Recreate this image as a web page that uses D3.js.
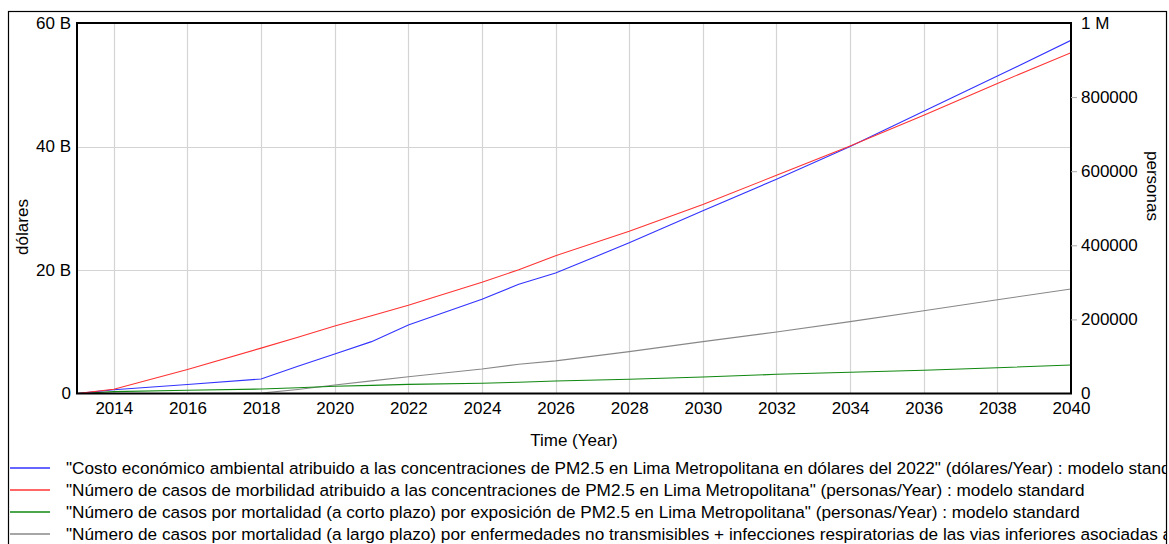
<!DOCTYPE html>
<html><head><meta charset="utf-8">
<script src="https://cdn.jsdelivr.net/npm/d3@7"></script>
<style>
body{margin:0;background:#fff}
text{font-family:"Liberation Sans",Arial,sans-serif;fill:#000}
</style>
</head><body><svg id="c" width="1169" height="544"></svg>
<script>
// ---- data ----
const years      = [2013, 2014, 2016, 2018, 2019, 2020, 2021, 2022, 2024, 2025, 2026, 2028, 2030, 2032, 2034, 2036, 2038, 2040];
// dólares/Year (billions)
const costoB     = [0, 0.6, 1.45, 2.35, 4.4, 6.4, 8.4, 11.1, 15.25, 17.7, 19.5, 24.4, 29.6, 34.7, 40.0, 45.7, 51.4, 57.2];
// personas/Year
const morbilidad = [0, 11500, 65000, 122500, 152000, 182000, 210000, 238000, 300000, 334000, 372000, 438000, 510000, 589000, 668000, 751000, 837000, 920000];
const mortCorto  = [0, 5000, 8600, 12000, 15500, 19400, 22000, 24500, 27500, 30500, 33700, 38300, 44500, 51800, 57200, 62600, 69600, 77000];
const mortLargo  = [0, 0, 0, 1000, 11000, 23000, 34000, 45000, 66000, 79000, 88000, 113000, 140000, 166000, 194000, 223500, 253000, 282000];

const xTickValues = [2014, 2016, 2018, 2020, 2022, 2024, 2026, 2028, 2030, 2032, 2034, 2036, 2038, 2040];
const leftTickValues = [0, 20e9, 40e9, 60e9];
const leftTickLabels = ["0", "20 B", "40 B", "60 B"];
const rightTickValues = [0, 200000, 400000, 600000, 800000, 1000000];
const rightTickLabels = ["0", "200000", "400000", "600000", "800000", "1 M"];

const legendLabels = [
  "\"Costo económico ambiental atribuido a las concentraciones de PM2.5 en Lima Metropolitana en dólares del 2022\" (dólares/Year) : modelo standard",
  "\"Número de casos de morbilidad atribuido a las concentraciones de PM2.5 en Lima Metropolitana\" (personas/Year) : modelo standard",
  "\"Número de casos por mortalidad (a corto plazo) por exposición de PM2.5 en Lima Metropolitana\" (personas/Year) : modelo standard",
  "\"Número de casos por mortalidad (a largo plazo) por enfermedades no transmisibles + infecciones respiratorias de las vias inferiores asociadas a PM2.5\" (personas/Year) : modelo standard"
];
const seriesColors = ["#3333ff", "#ff3333", "#118811", "#888888"];

// ---- layout ----
const svg = d3.select("#c");
const L = 77, R = 1071, T = 23, B = 393.5;

const x = d3.scaleLinear().domain([2013, 2040]).range([L, R]);
const yL = d3.scaleLinear().domain([0, 60e9]).range([B, T]);
const yR = d3.scaleLinear().domain([0, 1e6]).range([B, T]);

// outer frame
svg.append("rect").attr("x", 8.5).attr("y", 11.5).attr("width", 1158).attr("height", 560)
  .attr("fill", "none").attr("stroke", "#000").attr("stroke-width", 1.2);

// grid
const grid = svg.append("g").attr("stroke", "#d4d4d4").attr("stroke-width", 1.2);
grid.selectAll("line.v").data(xTickValues.filter(d => d < 2040)).enter().append("line")
  .attr("x1", d => Math.round(x(d)) + 0.5).attr("x2", d => Math.round(x(d)) + 0.5)
  .attr("y1", T).attr("y2", B);
grid.selectAll("line.h").data(leftTickValues.filter(d => d > 0 && d < 60e9)).enter().append("line")
  .attr("x1", L).attr("x2", R)
  .attr("y1", d => Math.round(yL(d)) + 0.5).attr("y2", d => Math.round(yL(d)) + 0.5);

// lines
svg.append("clipPath").attr("id", "pc").append("rect")
  .attr("x", L).attr("y", T).attr("width", R - L).attr("height", B - T);
const idx = d3.range(years.length);
const series = [
  {vals: costoB.map(v => v * 1e9), y: yL},
  {vals: morbilidad, y: yR},
  {vals: mortCorto, y: yR},
  {vals: mortLargo, y: yR}
];
const lg = svg.append("g").attr("clip-path", "url(#pc)");
[3, 2, 0, 1].forEach(k => {
  const s = series[k];
  const line = d3.line().x(i => x(years[i])).y(i => s.y(s.vals[i]));
  lg.append("path").attr("d", line(idx)).attr("fill", "none")
    .attr("stroke", seriesColors[k]).attr("stroke-width", 1.1);
});

// plot frame
svg.append("rect").attr("x", L).attr("y", T).attr("width", R - L).attr("height", B - T)
  .attr("fill", "none").attr("stroke", "#000").attr("stroke-width", 2);

// axes
const fs = 17;
const ff = "'Liberation Sans',Arial,sans-serif";
const xa = svg.append("g").attr("transform", `translate(0,${B})`)
  .call(d3.axisBottom(x).tickValues(xTickValues).tickFormat(d3.format("d")).tickSize(0).tickPadding(8));
xa.select(".domain").remove();
xa.selectAll("text").attr("font-size", fs).style("font-family", ff);

const la = svg.append("g").attr("transform", `translate(${L},0)`)
  .call(d3.axisLeft(yL).tickValues(leftTickValues).tickFormat((d, i) => leftTickLabels[i]).tickSize(0).tickPadding(6));
la.select(".domain").remove();
la.selectAll("text").attr("font-size", fs).style("font-family", ff);

const ra = svg.append("g").attr("transform", `translate(${R},0)`)
  .call(d3.axisRight(yR).tickValues(rightTickValues).tickFormat((d, i) => rightTickLabels[i]).tickSize(6).tickPadding(4));
ra.select(".domain").remove();
ra.selectAll("line").attr("stroke", "#aaa").attr("opacity", (d) => (d > 0 && d < 1e6) ? 1 : 0);
ra.selectAll("text").attr("font-size", fs).style("font-family", ff);

// axis titles
svg.append("text").attr("transform", "translate(22,227) rotate(-90)")
  .attr("text-anchor", "middle").attr("dominant-baseline", "central").attr("font-size", fs).text("dólares");
svg.append("text").attr("transform", "translate(1152,186) rotate(90)")
  .attr("text-anchor", "middle").attr("dominant-baseline", "central").attr("font-size", fs).text("personas");
svg.append("text").attr("x", (L + R) / 2).attr("y", 440)
  .attr("text-anchor", "middle").attr("dominant-baseline", "central").attr("font-size", fs).text("Time (Year)");

// legend (clipped at the outer frame, as in the original)
svg.append("clipPath").attr("id", "lc").append("rect")
  .attr("x", 9).attr("y", 450).attr("width", 1157).attr("height", 100);
const leg = svg.append("g").attr("clip-path", "url(#lc)");
legendLabels.forEach((t, i) => {
  const yy = 468 + i * 22;
  leg.append("line").attr("x1", 10).attr("x2", 50).attr("y1", yy).attr("y2", yy)
    .attr("stroke", seriesColors[i]).attr("stroke-width", 1.5);
  leg.append("text").attr("x", 66).attr("y", yy).attr("dominant-baseline", "central")
    .attr("font-size", 17.2).text(t);
});
</script>
</body></html>
